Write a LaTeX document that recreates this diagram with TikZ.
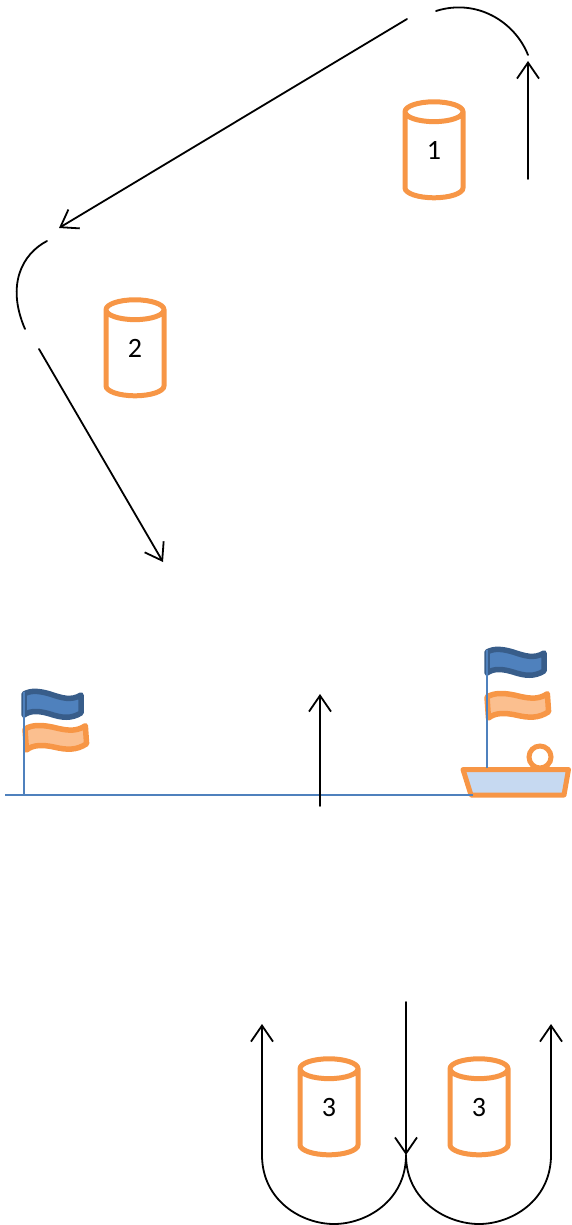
\documentclass[tikz,border=0pt]{standalone}
\usepackage{fontspec}
\setmainfont{Carlito}
\usetikzlibrary{arrows.meta}
\usetikzlibrary{shapes.geometric}

\definecolor{markorange}{HTML}{F79646}
\definecolor{flagorange}{HTML}{FBBF8F}
\definecolor{flagblue}{HTML}{4F81BD}
\definecolor{flagedge}{HTML}{385D8A}
\definecolor{boatfill}{HTML}{C6D9F1}

\newcommand{\buoynum}[1]{\raisebox{12pt}{#1}}

\tikzset{
    course/.style={line width=1.8pt,black,line cap=round},
    leg/.style={course,-{Straight Barb[length=16pt,width=22pt,line width=1.8pt]}},
    buoy/.style={cylinder,shape border rotate=90,draw=markorange,line width=5pt,fill=white,
        minimum width=58pt,minimum height=96pt,aspect=1.4,inner sep=0pt,
        font=\fontsize{28}{28}\selectfont,text=black},
    pole/.style={line width=1.8pt,draw=flagblue},
    wave/.style={line width=5.5pt,line join=round},
    pics/flag/.style={code={
        \path[wave,#1] (0,0) .. controls (7,-4) and (16,-3) .. (26,0)
            .. controls (38,4) and (47,7) .. (57,1) -- (57,19)
            .. controls (47,25) and (38,24) .. (26,20)
            .. controls (16,17) and (7,16) .. (0,21) -- cycle;
    }}
}

\begin{document}
\begin{tikzpicture}[x=1pt,y=-1pt]
    \useasboundingbox (0,0) rectangle (571,1225);

    % Define the points of the course
    \coordinate (S1) at (528,179);
    \coordinate (E1) at (528,61);
    \coordinate (S2) at (528,55);
    \coordinate (E2) at (436,11);
    \coordinate (S3) at (407,19);
    \coordinate (E3) at (59,228);
    \coordinate (S4) at (47,241);
    \coordinate (E4) at (25,329);
    \coordinate (S5) at (39,349);
    \coordinate (E5) at (163,562);
    \coordinate (S6) at (320,806);
    \coordinate (E6) at (320,694);
    \coordinate (S7) at (406,1002);
    \coordinate (E7) at (406,1155);
    \coordinate (L0) at (262,1155);
    \coordinate (L1) at (262,1024);
    \coordinate (R0) at (551,1155);
    \coordinate (R1) at (551,1024);

    % Draw buoys
    \node[buoy] (B1) at (434,156) {\buoynum{1}};
    \node[buoy] (B2) at (135,354) {\buoynum{2}};
    \node[buoy] (B3) at (329,1113) {\buoynum{3}};
    \node[buoy] (B4) at (479,1113) {\buoynum{3}};

    % Draw left flags
    \coordinate (P0) at (24,795);
    \coordinate (P1) at (24,692);
    \pic at (24,694) {flag={draw=flagedge,fill=flagblue}};
    \pic[rotate=4,xscale=1.06] at (25,729) {flag={draw=markorange,fill=flagorange}};
    \draw[pole] (P0) -- (P1);

    % Draw boat
    \draw[line width=5pt,draw=markorange,fill=white] (540,757) circle (11);
    \draw[line width=5pt,draw=markorange,fill=boatfill,line join=round]
        (463,769.5) -- (568.5,769.5) -- (564,795) -- (471,795) -- cycle;

    % Draw right flags
    \coordinate (P2) at (487,768);
    \coordinate (P3) at (487,650);
    \pic at (487,652) {flag={draw=flagedge,fill=flagblue}};
    \pic[rotate=4,xscale=1.06] at (487,697) {flag={draw=markorange,fill=flagorange}};
    \draw[pole] (P2) -- (P3);

    % Draw start line
    \coordinate (G0) at (5,795);
    \coordinate (G1) at (473,795);
    \draw[line width=1.8pt,draw=flagblue] (G0) -- (G1);

    % Draw course
    \draw[leg] (S1) -- (E1);
    \draw[course] (S2) .. controls (515,22) and (477,-2) .. (E2);
    \draw[leg] (S3) -- (E3);
    \draw[course] (S4) .. controls (22,254) and (6,285) .. (E4);
    \draw[leg] (S5) -- (E5);
    \draw[leg] (S6) -- (E6);
    \draw[leg] (S7) -- (E7);
    \draw[leg] (L0) -- (L1);
    \draw[leg] (R0) -- (R1);
    \draw[course] (L0) .. controls (262,1201) and (302,1224) .. (334,1224)
        .. controls (366,1224) and (406,1201) .. (E7);
    \draw[course] (E7) .. controls (406,1201) and (447,1224) .. (479,1224)
        .. controls (511,1224) and (551,1201) .. (R0);
\end{tikzpicture}
\end{document}
